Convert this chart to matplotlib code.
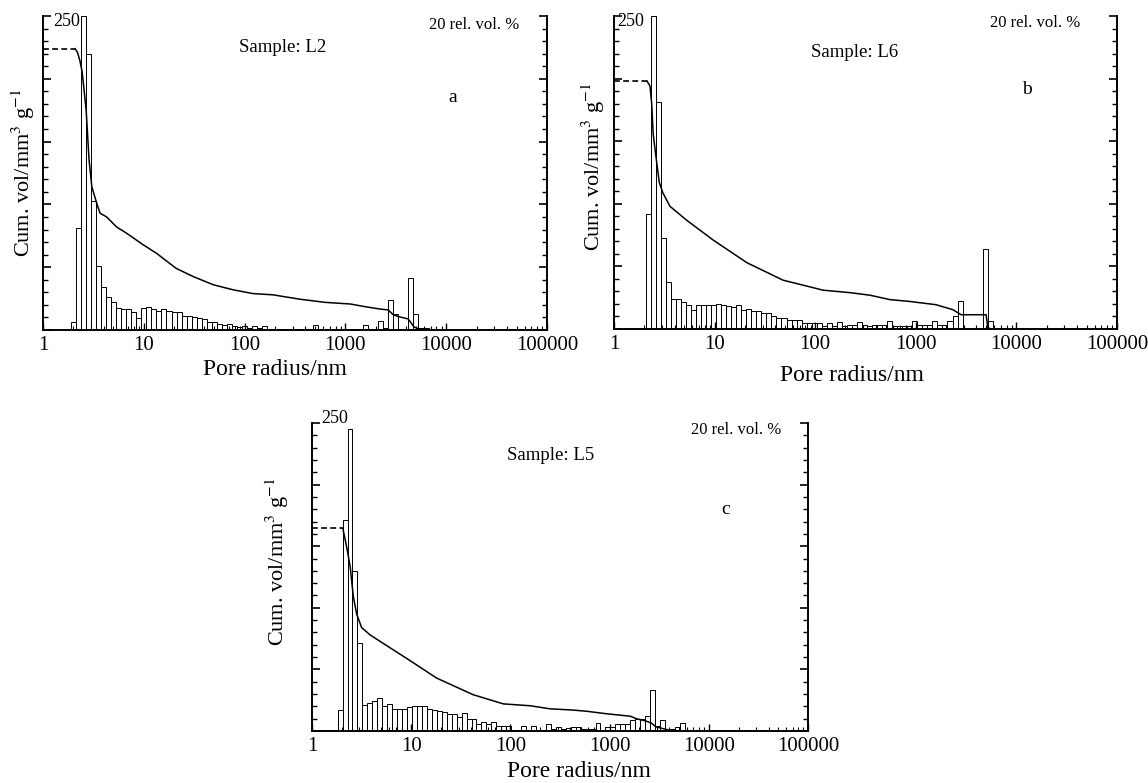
import numpy as np
import matplotlib.pyplot as plt
from matplotlib.ticker import MultipleLocator, LogLocator, NullFormatter

plt.rcParams['font.family'] = ['Liberation Serif', 'DejaVu Serif']
plt.rcParams['mathtext.fontset'] = 'stix'

# histogram bins: 0.05 decade wide, first edge given per sample (nm)
BIN_DEC = 0.05
x_ticks = [1, 10, 100, 1000, 10000, 100000]
x_ticklabels = ['1', '10', '100', '1000', '10000', '100000']

# ---- sample L2 (a) ----
a_edge0 = 1.884
a_hist = [2.6, 32.5, 100, 88, 41, 20.5, 13.6, 10.4, 8.9, 7.0,
          6.7, 6.7, 5.8, 3.8, 7.0, 7.3, 6.7, 6.0, 6.7, 6.0,
          5.6, 5.8, 4.5, 4.5, 4.1, 3.8, 3.6, 2.5, 2.5, 1.9,
          1.6, 2.0, 1.4, 0.9, 1.4, 0.5, 1.4, 0.5, 1.4, 0.4,
          0.4, 0.4, 0.4, 0.4, 0.4, 0.4, 0.4, 0.4, 1.6, 0.4,
          0.4, 0.4, 0.4, 0.4, 0.4, 0.4, 0.4, 0.4, 1.6, 0.4,
          0.4, 2.9, 0.5, 9.4, 5.1, 0, 0, 16.5, 5.1, 0.5, 0.5]
a_cum_r = [2.08, 2.2, 2.33, 2.45, 2.68, 2.86, 3.05, 3.41, 3.68, 4.28, 5.38, 6.77, 9.8, 13.4, 21, 31, 49,
           77, 121, 191, 355, 630, 1120, 1560, 2200, 2650, 3000, 3400, 4200, 4800, 5500, 6500]
a_cum_v = [224, 221, 214, 205, 175, 136, 114, 101, 93, 90, 82, 77, 68, 61, 49, 42.5, 36,
           32, 29, 28, 24.5, 22, 20.7, 18.6, 16.7, 16, 12, 10.6, 8.8, 2.4, 0.5, 0]

# ---- sample L6 (b) ----
b_edge0 = 2.065
b_hist = [36.7, 100, 72.6, 29, 14.9, 9.6, 9.5, 8.6, 7.8, 6.2,
          7.6, 7.6, 7.6, 7.6, 8.1, 7.6, 7.3, 7.1, 7.6, 6.0,
          6.4, 5.9, 5.8, 5.2, 5.0, 4.2, 3.6, 3.6, 3.0, 3.0,
          2.9, 2.0, 2.0, 2.0, 2.0, 1.1, 1.9, 1.0, 2.2, 1.0,
          1.2, 1.2, 2.2, 1.2, 1.0, 1.2, 1.2, 1.2, 2.6, 1.0,
          1.0, 1.0, 1.0, 2.6, 1.2, 1.2, 1.2, 2.6, 1.2, 1.2,
          2.6, 4.2, 9.0, 0, 0, 0, 0, 25.5, 2.6]
b_cum_r = [2.13, 2.28, 2.37, 2.45, 2.61, 2.82, 3.05, 3.6, 5.25, 9.7, 20.9, 47.9, 120, 224,
           350, 550, 870, 1590, 2340, 2820, 5000, 5200, 5600]
b_cum_v = [198, 194, 180, 156, 138, 117, 109, 98, 87, 71, 53, 39, 31, 29,
           27, 23.5, 22, 19.4, 15.4, 11.4, 11.4, 1, 0]

# ---- sample L5 (c) ----
c_edge0 = 1.811
c_hist = [6.7, 68.4, 97.9, 52, 28.7, 8.3, 9.2, 9.7, 10.8, 8.0,
          8.7, 7.3, 7.3, 7.3, 7.9, 8.0, 8.0, 8.0, 7.3, 6.8,
          6.6, 6.2, 5.6, 5.6, 4.5, 5.9, 4.0, 4.0, 2.4, 2.9,
          2.2, 2.9, 1.5, 1.5, 1.5, 0.3, 0.3, 1.5, 0.3, 1.5,
          0.3, 0.3, 2.4, 0.8, 1.2, 0.6, 1.0, 1.2, 1.2, 0.5,
          0.5, 0.5, 2.6, 0.3, 1.2, 1.2, 2.4, 2.4, 2.4, 3.5,
          4.0, 4.0, 4.8, 13.4, 1.5, 3.5, 0.3, 0.5, 1.2, 2.6]
c_cum_r = [2.04, 2.24, 2.43, 2.61, 2.82, 3.16, 3.85, 5.25, 9.8, 18, 42, 85, 158, 251,
           427, 590, 930, 1620, 1860, 2340, 2630, 2950, 4070, 4500]
c_cum_v = [165, 149, 133, 109, 95, 84, 78, 71, 57, 43, 29.5, 22, 20.5, 18,
           17, 16, 14, 12, 10, 8, 6.5, 3.3, 0.5, 0]

fig = plt.figure(figsize=(11.48, 7.83), dpi=100)


def panel(rect, edge0, hist, cum_r, cum_v, sample, letter, pos):
    ax = fig.add_axes(rect)
    ax2 = ax.twinx()
    ax.set_zorder(ax2.get_zorder() + 1)
    ax.patch.set_visible(False)

    edges = edge0 * 10 ** (BIN_DEC * np.arange(len(hist) + 1))
    ax2.bar(edges[:-1], hist, width=np.diff(edges), align='edge',
            color='white', edgecolor='black', linewidth=0.7)

    ax.plot([1, cum_r[0]], [cum_v[0], cum_v[0]], color='black', lw=1.2,
            linestyle=(0, (3.5, 2)))
    ax.plot(cum_r, cum_v, color='black', lw=1.1)

    ax.set_xscale('log')
    ax.set_xlim(1, 1e5)
    ax.set_ylim(0, 250)
    ax2.set_ylim(0, 100)
    ax.set_xticks(x_ticks, labels=x_ticklabels)
    ax.xaxis.set_minor_locator(LogLocator(base=10, subs=np.arange(2, 10)))
    ax.xaxis.set_minor_formatter(NullFormatter())
    ax.yaxis.set_major_locator(MultipleLocator(50))
    ax.yaxis.set_minor_locator(MultipleLocator(10))
    ax.set_yticklabels([])
    ax2.yaxis.set_major_locator(MultipleLocator(20))
    ax2.yaxis.set_minor_locator(MultipleLocator(4))
    ax2.set_yticklabels([])

    ax.tick_params(axis='x', which='major', direction='in', length=5, width=1, labelsize=15, pad=4)
    ax.tick_params(axis='x', which='minor', direction='in', length=3, width=0.8)
    ax.tick_params(axis='y', which='major', direction='in', length=6, width=1.2, left=True, right=False)
    ax.tick_params(axis='y', which='minor', direction='in', length=3.5, width=1, left=True, right=False)
    ax2.tick_params(axis='y', which='major', direction='in', length=6, width=1.2)
    ax2.tick_params(axis='y', which='minor', direction='in', length=3.5, width=1)

    for a in (ax, ax2):
        a.spines['top'].set_visible(False)
        for s in ('left', 'right', 'bottom'):
            a.spines[s].set_linewidth(1.2)

    ax.set_xlabel('Pore radius/nm', fontsize=17)
    ax.xaxis.set_label_coords(pos['xl'][0], pos['xl'][1])
    ax.xaxis.label.set_va('center')
    ax.set_ylabel(r'Cum. vol/mm$^3$ g$^{-1}$', fontsize=16)
    ax.yaxis.set_label_coords(pos['yl'][0], pos['yl'][1])
    ax.yaxis.label.set_va('center')

    ax.annotate('250', xy=(pos['n250'][0], pos['n250'][1]), xycoords=('axes fraction', 'data'),
                fontsize=13, ha='left', va='center')
    ax.text(pos['samp'][0], pos['samp'][1], 'Sample: ' + sample, transform=ax.transAxes,
            fontsize=13.5, ha='center', va='center')
    ax.text(pos['rel'][0], pos['rel'][1], '20 rel. vol. %', transform=ax.transAxes,
            fontsize=12, ha='center', va='center')
    ax.text(pos['let'][0], pos['let'][1], letter, transform=ax.transAxes,
            fontsize=14, ha='center', va='center')
    return ax


panel([43 / 1148, 1 - 330 / 783, 504 / 1148, 314 / 783], a_edge0, a_hist, a_cum_r, a_cum_v,
      'L2', 'a', {'xl': (0.46, -0.127), 'yl': (-0.04, 0.5), 'n250': (0.02, 246),
                  'samp': (0.476, 0.90), 'rel': (0.855, 0.971), 'let': (0.813, 0.742)})
panel([614 / 1148, 1 - 329 / 783, 503 / 1148, 313 / 783], b_edge0, b_hist, b_cum_r, b_cum_v,
      'L6', 'b', {'xl': (0.473, -0.147), 'yl': (-0.042, 0.52), 'n250': (0.007, 246),
                  'samp': (0.479, 0.882), 'rel': (0.837, 0.978), 'let': (0.821, 0.764)})
panel([312 / 1148, 1 - 731 / 783, 496 / 1148, 308 / 783], c_edge0, c_hist, c_cum_r, c_cum_v,
      'L5', 'c', {'xl': (0.538, -0.133), 'yl': (-0.07, 0.55), 'n250': (0.018, 253.6),
                  'samp': (0.482, 0.893), 'rel': (0.855, 0.977), 'let': (0.833, 0.72)})

fig.savefig('out.png', dpi=100, facecolor='white')
